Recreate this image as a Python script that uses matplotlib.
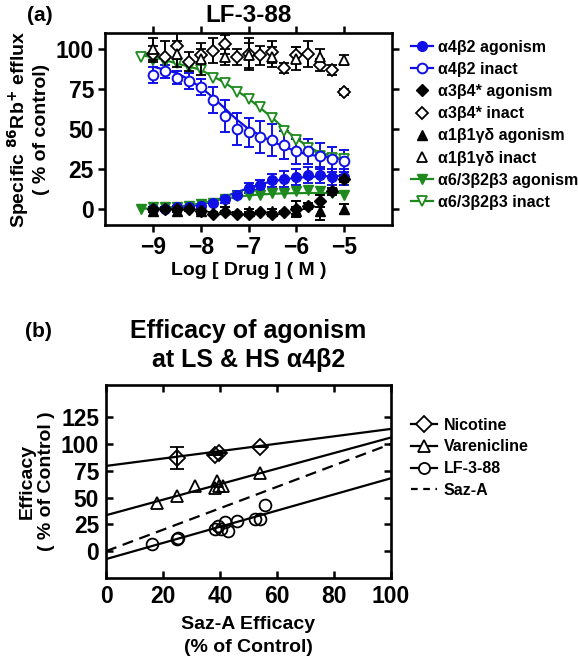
import matplotlib
matplotlib.use('Agg')
import matplotlib.pyplot as plt
from matplotlib.lines import Line2D

plt.rcParams['font.family'] = ['Liberation Sans', 'DejaVu Sans']
plt.rcParams['font.weight'] = 'bold'
plt.rcParams['axes.labelweight'] = 'bold'

BLUE = '#1010e6'
GREEN = '#1e8a1e'

# ---- panel (a) data: log[drug] vs % of control ----
log_x = [-9, -8.75, -8.5, -8.25, -8, -7.75, -7.5, -7.25, -7, -6.75,
         -6.5, -6.25, -6, -5.75, -5.5, -5.25, -5]
log_x_green = [-9.25] + log_x
log_x_half = [-9, -8.5, -8, -7.5, -7, -6.5, -6, -5.5, -5]

a4b2_inact = [84, 86, 82, 80, 76, 68, 58, 50, 48, 45, 43, 40, 36, 36, 33, 31, 30]
a4b2_inact_err = [5, 4, 4, 5, 5, 8, 10, 10, 9, 10, 10, 9, 8, 8, 8, 8, 7]
a4b2_inact_fit = [89, 87, 85, 81, 76, 70, 63, 56, 50, 46, 42, 39, 36, 34, 33, 32, 31]

a4b2_ago = [0, 0, 1, 1, 2, 4, 6, 9, 13, 15, 18, 19, 20, 21, 21, 20, 20]
a4b2_ago_err = [1, 1, 1, 1, 1, 1, 2, 2, 3, 3, 4, 5, 5, 5, 5, 5, 5]
a4b2_ago_fit = [0, 0.3, 0.7, 1.5, 2.8, 4.8, 7.5, 10.5, 13, 15.5, 17.3, 18.6,
                19.5, 20, 20.4, 20.6, 20.7]

a6_inact = [95, 93, 92, 91, 89, 87, 82, 79, 73, 69, 64, 57, 49, 43, 38, 33, 32, 31]
a6_inact_fit = [96, 95, 93, 91, 89, 87, 83, 79, 74, 69, 63, 57, 50, 44, 39, 35, 33, 31]
a6_ago = [0, 1, 1, 1, 2, 3, 4, 6, 8, 9, 9, 10, 10, 11, 12, 11, 10, 9]
a6_ago_fit = [0.2, 0.4, 0.8, 1.4, 2.3, 3.5, 5, 6.4, 7.6, 8.5, 9.1, 9.5, 9.8,
              9.9, 10, 10, 10, 10]

a3b4_inact = [97, 95, 102, 92, 96, 99, 103, 95, 97, 96, 98, 88, 96, 97, 90, 87, 73]
a3b4_inact_err = [5, 10, 8, 6, 4, 8, 6, 5, 10, 6, 7, 3, 5, 8, 4, 3, 2]
a3b4_ago = [0, 0, 0, 0, -1, -3, -2, -3, -3, -2, -3, -2, 0, 2, 5, 11, 19]
a3b4_ago_err = [1, 1, 1, 1, 1, 1, 1, 1, 1, 1, 1, 1, 5, 2, 4, 2, 2]

a1_inact = [100, 97, 94, 95, 96, 95, 94, 95, 93]
a1_inact_err = [7, 8, 10, 5, 8, 6, 7, 5, 3]
a1_ago = [-1, -1, -1, 0, -1, -1, -1, -1, 0]
a1_ago_err = [1, 1, 2, 1, 1, 1, 2, 6, 3]

# ---- panel (b) data: efficacy vs Saz-A efficacy ----
nic_x = [24.8, 38.2, 39.5, 54]
nic_y = [86.7, 90, 92, 97.5]
nic_err = [10, 0, 0, 0]
nic_fit_x = [0, 100]
nic_fit_y = [79.5, 114]

var_x = [17.8, 24.8, 31.2, 38.2, 38.8, 39.5, 41, 54]
var_y = [45, 51, 60.5, 59, 65, 61, 60.5, 73]
var_fit_x = [0, 100]
var_fit_y = [33.5, 106]

lf_x = [16, 24.8, 25.2, 38.2, 39.4, 40.2, 41.8, 42.8, 45.8, 52.3, 54, 55.8]
lf_y = [6.5, 11, 12, 21, 23.5, 21, 27, 19, 28, 29.6, 29.6, 43.5]
lf_fit_x = [0, 100]
lf_fit_y = [-7.4, 68]

saz_x = [0, 100]
saz_y = [0, 100]

fig = plt.figure(figsize=(5.78, 6.61), dpi=100)

# ================= panel (a) =================
ax = fig.add_axes([0.1817, 0.6596, 0.4965, 0.2905])
ms = 7
eb = dict(capsize=3.6, elinewidth=1.4, capthick=1.4, linestyle='none')

ax.plot(log_x, a4b2_inact_fit, color=BLUE, lw=1.6)
ax.errorbar(log_x, a4b2_inact, yerr=a4b2_inact_err, marker='o', ms=ms,
            mfc='white', mec=BLUE, mew=1.4, color=BLUE, **eb)
ax.plot(log_x, a4b2_ago_fit, color=BLUE, lw=1.6)
ax.errorbar(log_x, a4b2_ago, yerr=a4b2_ago_err, marker='o', ms=ms,
            mfc=BLUE, mec=BLUE, color=BLUE, **eb)

ax.plot(log_x_green, a6_inact_fit, color=GREEN, lw=1.6)
ax.plot(log_x_green, a6_inact, marker='v', ms=ms, mfc='white', mec=GREEN,
        mew=1.3, ls='none')
ax.plot(log_x_green, a6_ago_fit, color=GREEN, lw=1.6)
ax.plot(log_x_green, a6_ago, marker='v', ms=ms, mfc=GREEN, mec=GREEN, ls='none')

ax.errorbar(log_x, a3b4_inact, yerr=a3b4_inact_err, marker='D', ms=6.5,
            mfc='white', mec='black', mew=1.3, color='black', **eb)
ax.errorbar(log_x, a3b4_ago, yerr=a3b4_ago_err, marker='D', ms=6.5,
            mfc='black', mec='black', color='black', **eb)
ax.errorbar(log_x_half, a1_inact, yerr=a1_inact_err, marker='^', ms=ms,
            mfc='white', mec='black', mew=1.3, color='black', **eb)
ax.errorbar(log_x_half, a1_ago, yerr=a1_ago_err, marker='^', ms=ms,
            mfc='black', mec='black', color='black', **eb)

ax.set_xlim(-10, -4)
ax.set_ylim(-10, 110)
ax.set_xticks([-9, -8, -7, -6, -5])
ax.set_yticks([0, 25, 50, 75, 100])
ax.tick_params(direction='out', length=5, width=1.8, labelsize=16.5,
               top=True, right=True, pad=3)
for s in ax.spines.values():
    s.set_linewidth(1.9)
ax.set_xlabel('Log [ Drug ] ( M )', fontsize=14, labelpad=2)
ax.set_ylabel('Specific $^{\\mathbf{86}}$Rb$^{\\mathbf{+}}$ efflux\n( % of control)',
              fontsize=14, labelpad=4)

handles_a = [
    Line2D([], [], color=BLUE, lw=1.6, marker='o', ms=ms, mfc=BLUE, mec=BLUE),
    Line2D([], [], color=BLUE, lw=1.6, marker='o', ms=ms, mfc='white', mec=BLUE, mew=1.4),
    Line2D([], [], ls='none', marker='D', ms=6.5, mfc='black', mec='black'),
    Line2D([], [], ls='none', marker='D', ms=6.5, mfc='white', mec='black', mew=1.3),
    Line2D([], [], ls='none', marker='^', ms=ms, mfc='black', mec='black'),
    Line2D([], [], ls='none', marker='^', ms=ms, mfc='white', mec='black', mew=1.3),
    Line2D([], [], color=GREEN, lw=1.6, marker='v', ms=ms, mfc=GREEN, mec=GREEN),
    Line2D([], [], color=GREEN, lw=1.6, marker='v', ms=ms, mfc='white', mec=GREEN, mew=1.3),
]
labels_a = ['α4β2 agonism', 'α4β2 inact', 'α3β4* agonism', 'α3β4* inact',
            'α1β1γδ agonism', 'α1β1γδ inact', 'α6/3β2β3 agonism', 'α6/3β2β3 inact']
fig.legend(handles_a, labels_a, loc='upper left', bbox_to_anchor=(0.711, 0.940),
           frameon=False, fontsize=11.5, handlelength=1.4, handletextpad=0.3,
           labelspacing=0.45, borderpad=0, borderaxespad=0)

fig.text(0.43, 0.977, 'LF-3-88', ha='center', va='center', fontsize=17.5)
fig.text(0.069, 0.977, '(a)', ha='center', va='center', fontsize=15)

# ================= panel (b) =================
bx = fig.add_axes([0.1834, 0.1256, 0.493, 0.292])
bms = 8.5
bx.plot(nic_fit_x, nic_fit_y, color='black', lw=1.6)
bx.plot(var_fit_x, var_fit_y, color='black', lw=1.6)
bx.plot(lf_fit_x, lf_fit_y, color='black', lw=1.6)
bx.plot(saz_x, saz_y, color='black', lw=1.6, ls=(0, (5, 3)))
bx.errorbar(nic_x, nic_y, yerr=nic_err, marker='D', ms=8.5, mfc='none',
            mec='black', mew=1.3, color='black', capsize=5, elinewidth=1.4,
            capthick=1.4, ls='none')
bx.plot(var_x, var_y, marker='^', ms=bms, mfc='none', mec='black', mew=1.3, ls='none')
bx.plot(lf_x, lf_y, marker='o', ms=bms, mfc='none', mec='black', mew=1.3, ls='none')

bx.set_xlim(0, 100)
bx.set_ylim(-25, 155)
bx.set_xticks([0, 20, 40, 60, 80, 100])
bx.set_yticks([0, 25, 50, 75, 100, 125])
bx.tick_params(direction='in', length=5, width=1.8, labelsize=16.5,
               top=True, right=True, pad=5)
for s in bx.spines.values():
    s.set_linewidth(1.9)
bx.set_xlabel('Saz-A Efficacy\n(% of Control)', fontsize=14, labelpad=6,
              linespacing=1.45)
bx.set_ylabel('Efficacy\n( % of Control )', fontsize=14, labelpad=4)

handles_b = [
    Line2D([], [], color='black', lw=1.6, marker='D', ms=8, mfc='white', mec='black', mew=1.3),
    Line2D([], [], color='black', lw=1.6, marker='^', ms=8, mfc='white', mec='black', mew=1.3),
    Line2D([], [], color='black', lw=1.6, marker='o', ms=8, mfc='white', mec='black', mew=1.3),
    Line2D([], [], color='black', lw=1.6, ls=(0, (3, 2.5))),
]
fig.legend(handles_b, ['Nicotine', 'Varenicline', 'LF-3-88', 'Saz-A'],
           loc='upper left', bbox_to_anchor=(0.711, 0.368), frameon=False,
           fontsize=11.5, handlelength=1.6, handletextpad=0.45,
           labelspacing=0.42, borderpad=0, borderaxespad=0)

fig.text(0.43, 0.477, 'Efficacy of agonism\nat LS & HS α4β2', ha='center',
         va='center', fontsize=18, linespacing=1.25)
fig.text(0.066, 0.499, '(b)', ha='center', va='center', fontsize=15)

fig.savefig('out.png', dpi=100)
